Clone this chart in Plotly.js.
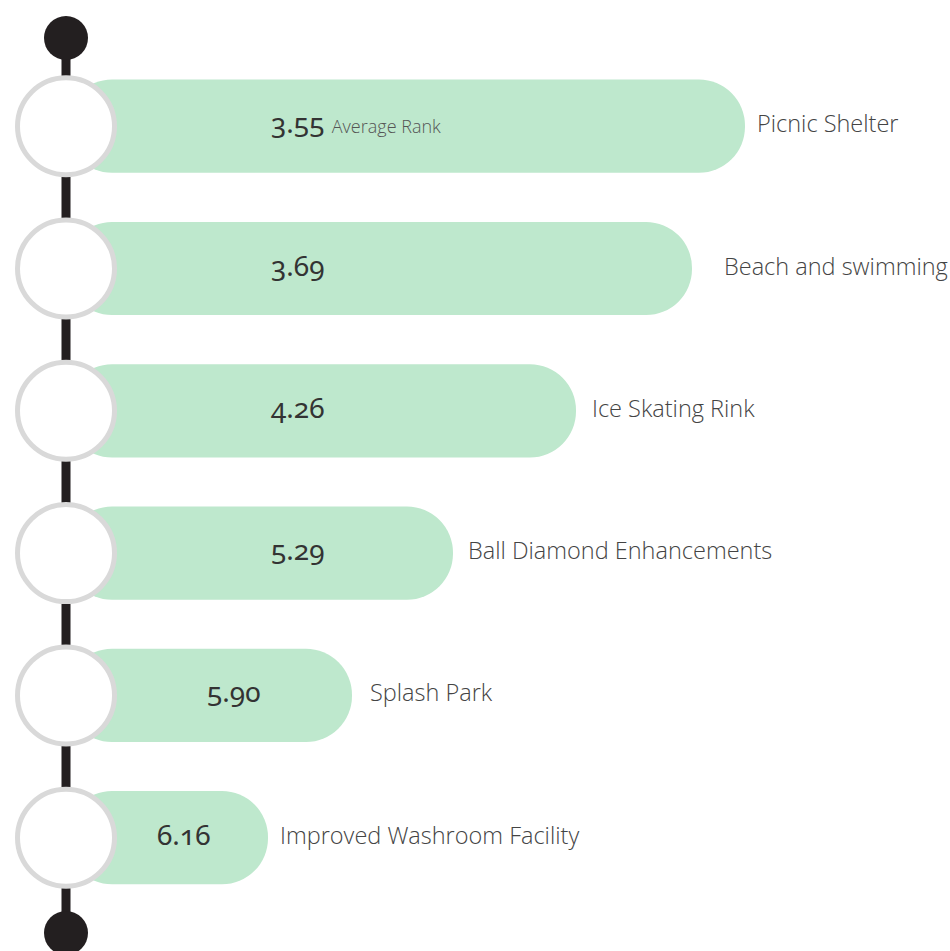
<!DOCTYPE html>
<html>
<head>
<meta charset="utf-8">
<script src="https://cdn.plot.ly/plotly-3.0.1.min.js"></script>
<style>
  html, body { margin: 0; padding: 0; background: #ffffff; }
  #chart { width: 950px; height: 951px; }
  g.annotation text { font-feature-settings: "onum" 1; }
</style>
</head>
<body>
<div id="chart"></div>
<script>
// Amenities, ordered from highest to lowest priority
const amenities = [
  "Picnic Shelter",
  "Beach and swimming",
  "Ice Skating Rink",
  "Ball Diamond Enhancements",
  "Splash Park",
  "Improved Washroom Facility"
];

// Average rank given by respondents (lower = more preferred)
const averageRank = [3.55, 3.69, 4.26, 5.29, 5.90, 6.16];

// Visual bar reach for each amenity (display units)
const barLength = [679, 626, 510, 387, 286, 202];

// ---- layout-only settings ----
const timelineX = 66;
const valueLabelX = [268, 268, 268, 268, 204, 154];
const labelGap = [10, 30, 14, 13, 16, 10];
const firstCenterPx = 126.2, stepPx = 142.3, H = 951, W = 950;

const ink = "#231f20";
const barColor = "#bee8cd";

const bars = {
  type: "bar",
  orientation: "h",
  y: amenities,
  x: barLength,
  base: amenities.map(() => timelineX),
  marker: { color: barColor, cornerradius: "50%", line: { width: 0 } },
  hoverinfo: "skip",
  showlegend: false
};

const nodes = {
  type: "scatter",
  mode: "markers",
  y: amenities,
  x: amenities.map(() => timelineX),
  marker: { size: 97, color: "#ffffff", line: { color: "#d9d9d9", width: 5 } },
  hoverinfo: "skip",
  showlegend: false,
  cliponaxis: false
};

const yTop = -firstCenterPx / stepPx;
const yBottom = (H - firstCenterPx) / stepPx;
const dotTop = (38 - firstCenterPx) / stepPx;
const dotBottom = (933 - firstCenterPx) / stepPx;

const shapes = [
  { type: "line", layer: "below", xref: "x", yref: "y",
    x0: timelineX, x1: timelineX, y0: dotTop, y1: dotBottom,
    line: { color: ink, width: 9 } },
  { type: "circle", layer: "below", xref: "x", yref: "y",
    xsizemode: "pixel", ysizemode: "pixel", xanchor: timelineX, yanchor: dotTop,
    x0: -22, x1: 22, y0: -22, y1: 22, fillcolor: ink, line: { width: 0 } },
  { type: "circle", layer: "below", xref: "x", yref: "y",
    xsizemode: "pixel", ysizemode: "pixel", xanchor: timelineX, yanchor: dotBottom,
    x0: -22, x1: 22, y0: -22, y1: 22, fillcolor: ink, line: { width: 0 } }
];

const annotations = [];
amenities.forEach((name, i) => {
  const valueText = averageRank[i].toFixed(2) +
    (i === 0 ? ' <span style="font-size:18px;color:#555555;font-family:Open Sans;font-weight:300">Average Rank</span>' : "");
  annotations.push({
    x: valueLabelX[i], y: name, xref: "x", yref: "y",
    xanchor: "left", yanchor: "middle", showarrow: false,
    yshift: 4,
    text: valueText,
    font: { family: "Noto Sans, Open Sans, sans-serif", size: 28, color: "#333333" }
  });
  annotations.push({
    x: timelineX + barLength[i], y: name, xref: "x", yref: "y",
    xanchor: "left", yanchor: "middle", showarrow: false,
    xshift: labelGap[i], yshift: 3,
    text: name,
    font: { family: "Open Sans, Noto Sans, sans-serif", size: 23.5, color: "#444444", weight: 300 }
  });
});

const layout = {
  width: W, height: H,
  margin: { l: 0, r: 0, t: 0, b: 0, pad: 0 },
  paper_bgcolor: "#ffffff",
  plot_bgcolor: "#ffffff",
  bargap: 0.345,
  showlegend: false,
  xaxis: { range: [0, W], visible: false, fixedrange: true },
  yaxis: {
    type: "category", categoryorder: "array", categoryarray: amenities,
    range: [yBottom, yTop], visible: false, fixedrange: true
  },
  shapes: shapes,
  annotations: annotations
};

Plotly.newPlot("chart", [bars, nodes], layout, { displayModeBar: false, staticPlot: true });
</script>
</body>
</html>
